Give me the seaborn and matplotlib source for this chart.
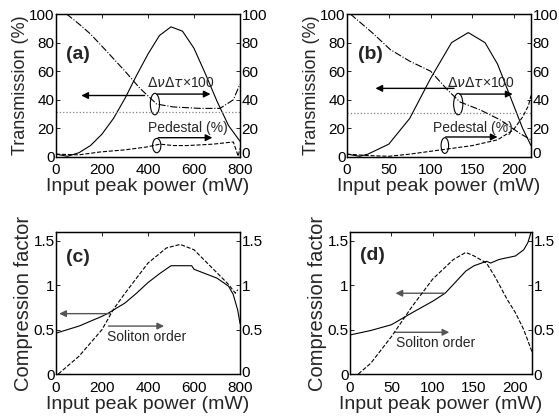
import matplotlib
matplotlib.use("Agg")
import matplotlib.pyplot as plt
import matplotlib.transforms as mtransforms
from matplotlib.patches import Ellipse
import seaborn as sns
import numpy as np
import pandas as pd

sns.set_theme(style='white', context='notebook')
plt.rcParams['font.family'] = ['Liberation Sans', 'DejaVu Sans']
plt.rcParams['mathtext.fontset'] = 'dejavusans'

# ---Panel (a) data, power in mW---
a_trans_p = [0, 50, 100, 150, 200, 250, 300, 350, 400, 450, 500, 550, 600, 650, 700, 750, 800]
a_trans = [2, 0.5, 3, 8, 16, 27, 41, 57, 72, 85, 91, 88, 76, 58, 39, 22, 11]
a_tbp_p = [46, 100, 150, 220, 300, 365, 438, 510, 626, 713, 771, 800]
a_tbp = [100, 93, 86, 74, 60, 48, 37, 35, 34, 34, 40, 51]
a_ped_p = [0, 100, 191, 300, 394, 452, 510, 568, 630, 684, 740, 771, 785, 792, 800]
a_ped = [2, 1.5, 3.5, 5, 7, 9, 8, 8, 8.5, 9, 10, 10.5, 4, 0.5, 6]
a_dotted = 31.5

# ---Panel (b) data---
b_trans_p = [0, 15, 25, 50, 75, 100, 125, 145, 165, 180, 200, 210, 220]
b_trans = [2, 0.5, 2, 9, 27, 55, 80, 87, 80, 65, 35, 20, 8]
b_tbp_p = [4, 30, 52, 75, 100, 120, 135, 159, 183, 207, 220]
b_tbp = [100, 87, 75, 67, 60, 47, 38.5, 33, 26, 16.4, 12]
b_ped_p = [0, 25, 50, 75, 100, 125, 150, 180, 199, 210, 217, 220]
b_ped = [2, 1, 0.5, 2, 4, 6, 8, 12, 19, 28, 36, 43]
b_dotted = 31

# ---Panel (c) data---
c_comp_p = [0, 100, 200, 230, 300, 350, 400, 450, 500, 550, 590, 600, 650, 700, 750, 770, 790, 800]
c_comp = [0.46, 0.54, 0.65, 0.69, 0.80, 0.91, 1.03, 1.13, 1.22, 1.22, 1.22, 1.18, 1.13, 1.08, 0.99, 0.90, 0.72, 0.57]
c_sol_p = [10, 100, 200, 250, 300, 400, 480, 540, 600, 650, 700, 750, 780, 790]
c_sol = [0, 0.2, 0.5, 0.73, 0.91, 1.25, 1.42, 1.46, 1.40, 1.27, 1.14, 1.01, 0.91, 0.95]

# ---Panel (d) data---
d_comp_p = [0, 25, 50, 75, 100, 115, 125, 140, 150, 165, 170, 175, 180, 200, 210, 215, 220]
d_comp = [0.44, 0.49, 0.555, 0.69, 0.82, 0.91, 1.01, 1.16, 1.22, 1.27, 1.25, 1.27, 1.29, 1.33, 1.40, 1.48, 1.63]
d_sol_p = [10, 25, 50, 75, 100, 125, 140, 150, 165, 175, 190, 200, 210, 220]
d_sol = [0, 0.12, 0.42, 0.76, 1.07, 1.29, 1.37, 1.33, 1.25, 1.10, 0.84, 0.69, 0.50, 0.25]

TICK = 11
XLAB = 14
W, H = 559, 416


def make_axes(fig, x0, y0, x1, y1):
    ax = fig.add_axes([x0 / W, 1 - y1 / H, (x1 - x0) / W, (y1 - y0) / H])
    return ax


def style(ax, axr, xlim, ylim, xticks, yticks, yticklabels, lift_zero=0):
    for a in (ax, axr):
        a.set_xlim(xlim)
        a.set_ylim(ylim)
        a.set_yticks(yticks)
        a.set_yticklabels(yticklabels, fontsize=TICK)
        a.tick_params(direction='in', length=3, width=0.6, pad=1, colors='black')
        for s in a.spines.values():
            s.set_color('black')
            s.set_linewidth(0.9)
    ax.set_xticks(xticks)
    ax.set_xticklabels([str(t) for t in xticks], fontsize=TICK)
    ax.tick_params(axis='x', top=True, pad=4)
    ax.tick_params(axis='y', left=True)
    axr.tick_params(axis='y', right=True)
    ax.set_xlabel("Input peak power (mW)", fontsize=XLAB, labelpad=1)
    if lift_zero:
        # nudge the right-hand "0" up so it clears the last x tick label
        lab = axr.get_yticklabels()[0]
        lab.set_transform(lab.get_transform() + mtransforms.ScaledTranslation(0, lift_zero / 72, ax.figure.dpi_scale_trans))


def arrow(ax, x0, y, x1, color='black'):
    ax.annotate('', xy=(x1, y), xytext=(x0, y),
                arrowprops=dict(arrowstyle='-|>', color=color, lw=1.0,
                                mutation_scale=10, shrinkA=0, shrinkB=0))


fig = plt.figure(figsize=(5.59, 4.16), dpi=100)
fig.patch.set_facecolor('white')

# ---(a)---
ax = make_axes(fig, 56, 14, 240, 157)
axr = ax.twinx()
sns.lineplot(ax=ax, x=a_trans_p, y=a_trans, color='black', lw=0.8)
ax.axhline(a_dotted, color='gray', ls=':', lw=0.9)
sns.lineplot(ax=axr, x=a_tbp_p, y=a_tbp, color='black', lw=0.8, ls='-.')
sns.lineplot(ax=axr, x=a_ped_p, y=a_ped, color='black', lw=0.8, ls='--')
style(ax, axr, (0, 800), (0, 100), [0, 200, 400, 600, 800], [0, 20, 40, 60, 80, 100],
      ['0', '20', '40', '60', '80', '100'], lift_zero=3.5)
ax.set_ylabel("Transmission (%)", fontsize=13, labelpad=0)
ax.text(45, 72, "(a)", fontsize=14, fontweight='bold', va='center')
ax.text(545, 52, r"$\Delta\nu\Delta\tau$×100", fontsize=10, ha='center', va='center')
ax.text(575, 20.5, "Pedestal (%)", fontsize=10, ha='center', va='center')
arrow(ax, 385, 43, 110)
arrow(ax, 440, 44, 672)
arrow(ax, 445, 13.5, 680)
ax.add_patch(Ellipse((430, 37), 40, 15, fill=False, lw=0.8, color='black'))
ax.add_patch(Ellipse((438, 8), 36, 10, fill=False, lw=0.8, color='black'))

# ---(b)---
ax = make_axes(fig, 347, 14, 531, 157)
axr = ax.twinx()
sns.lineplot(ax=ax, x=b_trans_p, y=b_trans, color='black', lw=0.8)
ax.axhline(b_dotted, color='gray', ls=':', lw=0.9)
sns.lineplot(ax=axr, x=b_tbp_p, y=b_tbp, color='black', lw=0.8, ls='-.')
sns.lineplot(ax=axr, x=b_ped_p, y=b_ped, color='black', lw=0.8, ls='--')
style(ax, axr, (0, 220), (0, 100), [0, 50, 100, 150, 200], [0, 20, 40, 60, 80, 100],
      ['0', '20', '40', '60', '80', '100'], lift_zero=3.5)
ax.set_ylabel("Transmission (%)", fontsize=13, labelpad=0)
ax.text(13, 72, "(b)", fontsize=14, fontweight='bold', va='center')
ax.text(160, 52, r"$\Delta\nu\Delta\tau$×100", fontsize=10, ha='center', va='center')
ax.text(151, 20.5, "Pedestal (%)", fontsize=10, ha='center', va='center')
arrow(ax, 128, 48, 34)
arrow(ax, 135, 44, 198)
arrow(ax, 118, 14, 180)
ax.add_patch(Ellipse((133, 37), 11, 15, fill=False, lw=0.8, color='black'))
ax.add_patch(Ellipse((117, 8), 9, 11, fill=False, lw=0.8, color='black'))

# ---(c)---
gray = '#555555'
ax = make_axes(fig, 56, 232, 240, 374)
axr = ax.twinx()
sns.lineplot(ax=ax, x=c_comp_p, y=c_comp, color='black', lw=0.8)
sns.lineplot(ax=axr, x=c_sol_p, y=c_sol, color='black', lw=0.8, ls='--')
style(ax, axr, (0, 800), (0, 1.6), [0, 200, 400, 600, 800], [0, 0.5, 1, 1.5],
      ['0', '0.5', '1', '1.5'], lift_zero=2)
ax.tick_params(axis='x', pad=5)
ax.set_ylabel("Compression factor", fontsize=14.5, labelpad=0)
ax.text(45, 1.31, "(c)", fontsize=14, fontweight='bold', va='center')
ax.text(222, 0.42, "Soliton order", fontsize=10, ha='left', va='center')
arrow(ax, 236, 0.68, 14, gray)
arrow(ax, 228, 0.54, 470, gray)

# ---(d)---
ax = make_axes(fig, 350, 232, 532, 374)
axr = ax.twinx()
sns.lineplot(ax=ax, x=d_comp_p, y=d_comp, color='black', lw=0.8)
sns.lineplot(ax=axr, x=d_sol_p, y=d_sol, color='black', lw=0.8, ls='--')
style(ax, axr, (0, 220), (0, 1.6), [0, 50, 100, 150, 200], [0, 0.5, 1, 1.5],
      ['0', '0.5', '1', '1.5'])
ax.tick_params(axis='x', pad=5)
ax.set_ylabel("Compression factor", fontsize=14.5, labelpad=0)
ax.text(12, 1.33, "(d)", fontsize=14, fontweight='bold', va='center')
ax.text(55, 0.35, "Soliton order", fontsize=10, ha='left', va='center')
arrow(ax, 115, 0.91, 55, gray)
arrow(ax, 54, 0.47, 120, gray)

fig.savefig("out.png", dpi=100, facecolor='white')
